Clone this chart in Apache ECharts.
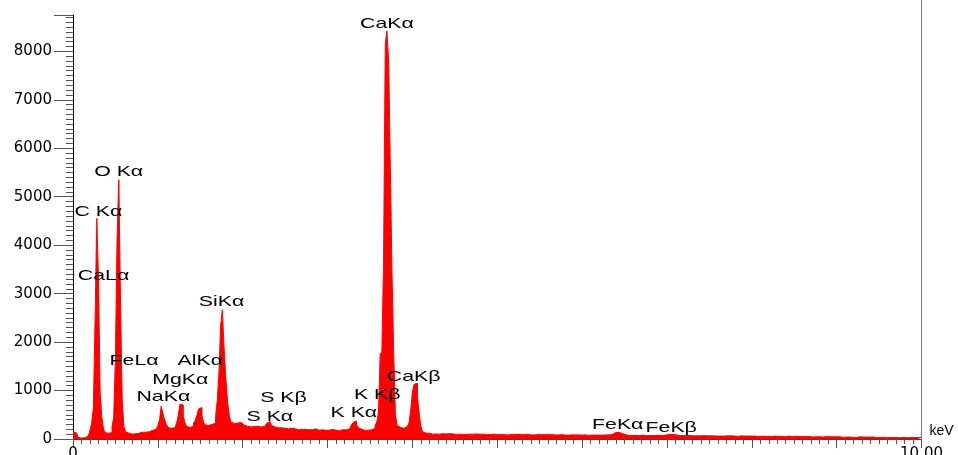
<!DOCTYPE html>
<html><head><meta charset="utf-8">
<script src="https://cdn.jsdelivr.net/npm/echarts@6/dist/echarts.min.js"></script>
<style>html,body{margin:0;padding:0;background:#fff}#c{width:958px;height:455px}</style>
</head><body><div id="c"></div>
<script>
// Spectrum: channel energies start at 0 keV, 0.02 keV per channel (500 channels to 10 keV)
const channelStartKeV = 0;
const channelWidthKeV = 0.02;
const counts = [
  140, 130, 110, 30, 20, 20, 25, 40, 60, 90,
  180, 330, 650, 2450, 4550, 3350, 950, 450, 200, 130,
  120, 110, 130, 250, 460, 1700, 4210, 5350, 2800, 800,
  250, 150, 120, 110, 100, 120, 110, 130, 120, 130,
  140, 150, 140, 160, 150, 170, 180, 190, 200, 210,
  280, 400, 680, 520, 400, 300, 240, 220, 250, 230,
  260, 320, 480, 720, 700, 470, 330, 260, 240, 250,
  260, 330, 380, 490, 620, 650, 490, 340, 290, 280,
  290, 300, 310, 330, 450, 800, 1360, 2350, 2660, 1900,
  1290, 800, 500, 350, 320, 310, 330, 350, 340, 300,
  290, 300, 260, 280, 250, 270, 260, 240, 260, 250,
  250, 240, 260, 290, 320, 360, 330, 280, 250, 240,
  230, 250, 230, 210, 220, 200, 210, 200, 220, 200,
  210, 200, 190, 210, 200, 190, 200, 210, 190, 200,
  190, 200, 210, 190, 180, 200, 190, 200, 180, 190,
  180, 190, 200, 190, 180, 190, 170, 180, 190, 200,
  190, 200, 210, 240, 290, 340, 370, 300, 240, 200,
  190, 180, 170, 180, 170, 190, 200, 220, 280, 350,
  550, 1750, 1800, 3700, 8150, 8420, 7800, 5600, 3400, 1750,
  500, 280, 240, 230, 220, 250, 260, 280, 330, 600,
  970, 1130, 1150, 870, 530, 250, 150, 120, 110, 120,
  110, 100, 115, 105, 110, 100, 105, 110, 95, 105,
  100, 110, 95, 105, 100, 95, 105, 100, 110, 95,
  100, 95, 105, 100, 90, 100, 95, 105, 95, 100,
  95, 100, 90, 95, 100, 90, 95, 100, 95, 90,
  95, 90, 100, 90, 95, 85, 95, 90, 100, 90,
  90, 95, 85, 90, 95, 90, 85, 95, 90, 85,
  90, 85, 95, 90, 85, 90, 80, 90, 85, 90,
  85, 90, 80, 85, 90, 85, 80, 90, 85, 80,
  85, 80, 90, 85, 80, 85, 80, 85, 90, 80,
  80, 85, 80, 75, 85, 80, 85, 80, 75, 80,
  85, 80, 75, 85, 80, 85, 90, 100, 120, 135,
  140, 135, 125, 110, 95, 85, 80, 75, 80, 75,
  80, 75, 80, 70, 75, 80, 75, 70, 80, 75,
  75, 70, 80, 75, 70, 75, 80, 75, 80, 85,
  90, 95, 100, 95, 90, 80, 75, 70, 75, 70,
  70, 75, 65, 70, 75, 65, 70, 65, 70, 65,
  65, 70, 60, 65, 70, 65, 60, 65, 70, 60,
  65, 60, 65, 60, 55, 65, 60, 65, 55, 60,
  60, 55, 60, 65, 55, 60, 55, 60, 55, 60,
  55, 60, 55, 50, 60, 55, 50, 55, 60, 50,
  55, 50, 55, 60, 50, 55, 50, 55, 50, 45,
  50, 55, 50, 45, 50, 55, 45, 50, 45, 50,
  45, 50, 45, 50, 45, 40, 50, 45, 40, 45,
  45, 40, 45, 50, 40, 45, 40, 45, 40, 45,
  40, 45, 40, 35, 45, 40, 35, 40, 45, 35,
  40, 35, 40, 45, 35, 40, 35, 40, 35, 40,
  35, 40, 35, 30, 40, 35, 30, 35, 40, 30,
  35, 30, 35, 30, 35, 30, 35, 25, 30, 35,
  30, 25, 30, 35, 25, 30, 25, 30, 25, 30
];
const xTickLabels = { 0: '0', 10: '10.00' };
const xUnit = 'keV';
// Peak annotations (label anchor in data coordinates)
const peakNames = ['CaKα', 'O Kα', 'C Kα', 'CaLα', 'SiKα', 'FeLα', 'AlKα', 'MgKα', 'NaKα',
  'S Kβ', 'S Kα', 'K Kβ', 'K Kα', 'CaKβ', 'FeKα', 'FeKβ'];
const peakLabelKeV = [3.70, 0.538, 0.30, 0.36, 1.75, 0.72, 1.50, 1.265, 1.065,
  2.48, 2.32, 3.585, 3.31, 4.015, 6.42, 7.05];
const peakLabelCounts = [8560, 5510, 4680, 3360, 2820, 1610, 1610, 1215, 865,
  845, 455, 905, 535, 1280, 290, 225];

const seriesData = counts.map((v, i) => [+(channelStartKeV + i * channelWidthKeV).toFixed(2), v]);
seriesData.push([10, counts[counts.length - 1]]);

const chart = echarts.init(document.getElementById('c'), null, { renderer: 'canvas' });
const tickColor = '#555';
chart.setOption({
  animation: false,
  backgroundColor: '#fff',
  grid: { left: 73, right: 36.5, top: 15, bottom: 16, containLabel: false, outerBoundsMode: 'none' },
  xAxis: {
    type: 'value', min: 0, max: 10, interval: 1,
    name: xUnit, nameLocation: 'end', nameGap: 8,
    nameTextStyle: { color: '#000', fontSize: 14, fontFamily: 'Liberation Sans', verticalAlign: 'bottom', padding: [0, 0, 1, 0] },
    axisLine: { show: true, lineStyle: { color: '#444', width: 1 } },
    axisTick: { show: true, length: 9, lineStyle: { color: tickColor } },
    minorTick: { show: true, splitNumber: 10, length: 5, lineStyle: { color: tickColor } },
    splitLine: { show: false },
    axisLabel: {
      show: true, margin: 8, color: '#000', fontSize: 15, fontFamily: 'DejaVu Sans',
      showMinLabel: true, showMaxLabel: true, hideOverlap: false,
      formatter: v => (xTickLabels[v] !== undefined ? xTickLabels[v] : '')
    }
  },
  yAxis: {
    type: 'value', min: 0, max: 8750, interval: 1000,
    axisLine: { show: true, lineStyle: { color: '#000', width: 1 } },
    axisTick: { show: true, length: 19, lineStyle: { color: tickColor } },
    minorTick: { show: true, splitNumber: 10, length: 7, lineStyle: { color: tickColor } },
    splitLine: { show: false },
    axisLabel: {
      margin: 21, color: '#000', fontSize: 15, fontFamily: 'DejaVu Sans',
      showMaxLabel: false,
      formatter: v => (v % 1000 === 0 ? String(v) : '')
    }
  },
  series: [{
    type: 'line', step: 'end', data: seriesData, symbol: 'none',
    lineStyle: { color: '#ff0000', width: 1 },
    areaStyle: { color: '#ff0000', opacity: 1 },
    z: 1
  }]
});

const graphics = peakNames.map((name, i) => {
  const p = chart.convertToPixel({ gridIndex: 0 }, [peakLabelKeV[i], peakLabelCounts[i]]);
  return {
    type: 'text', x: p[0], y: p[1], scaleX: 1.42, z: 100,
    style: { text: name, font: '15px "Liberation Sans", Arial', fill: '#000', align: 'center', verticalAlign: 'middle' }
  };
});
const rightX = chart.convertToPixel({ gridIndex: 0 }, [10, 0]);
graphics.push({
  type: 'line', z: 50,
  shape: { x1: rightX[0], y1: 0, x2: rightX[0], y2: rightX[1] },
  style: { stroke: '#808080', lineWidth: 1 }
});
chart.setOption({ graphic: graphics });
</script>
</body></html>
